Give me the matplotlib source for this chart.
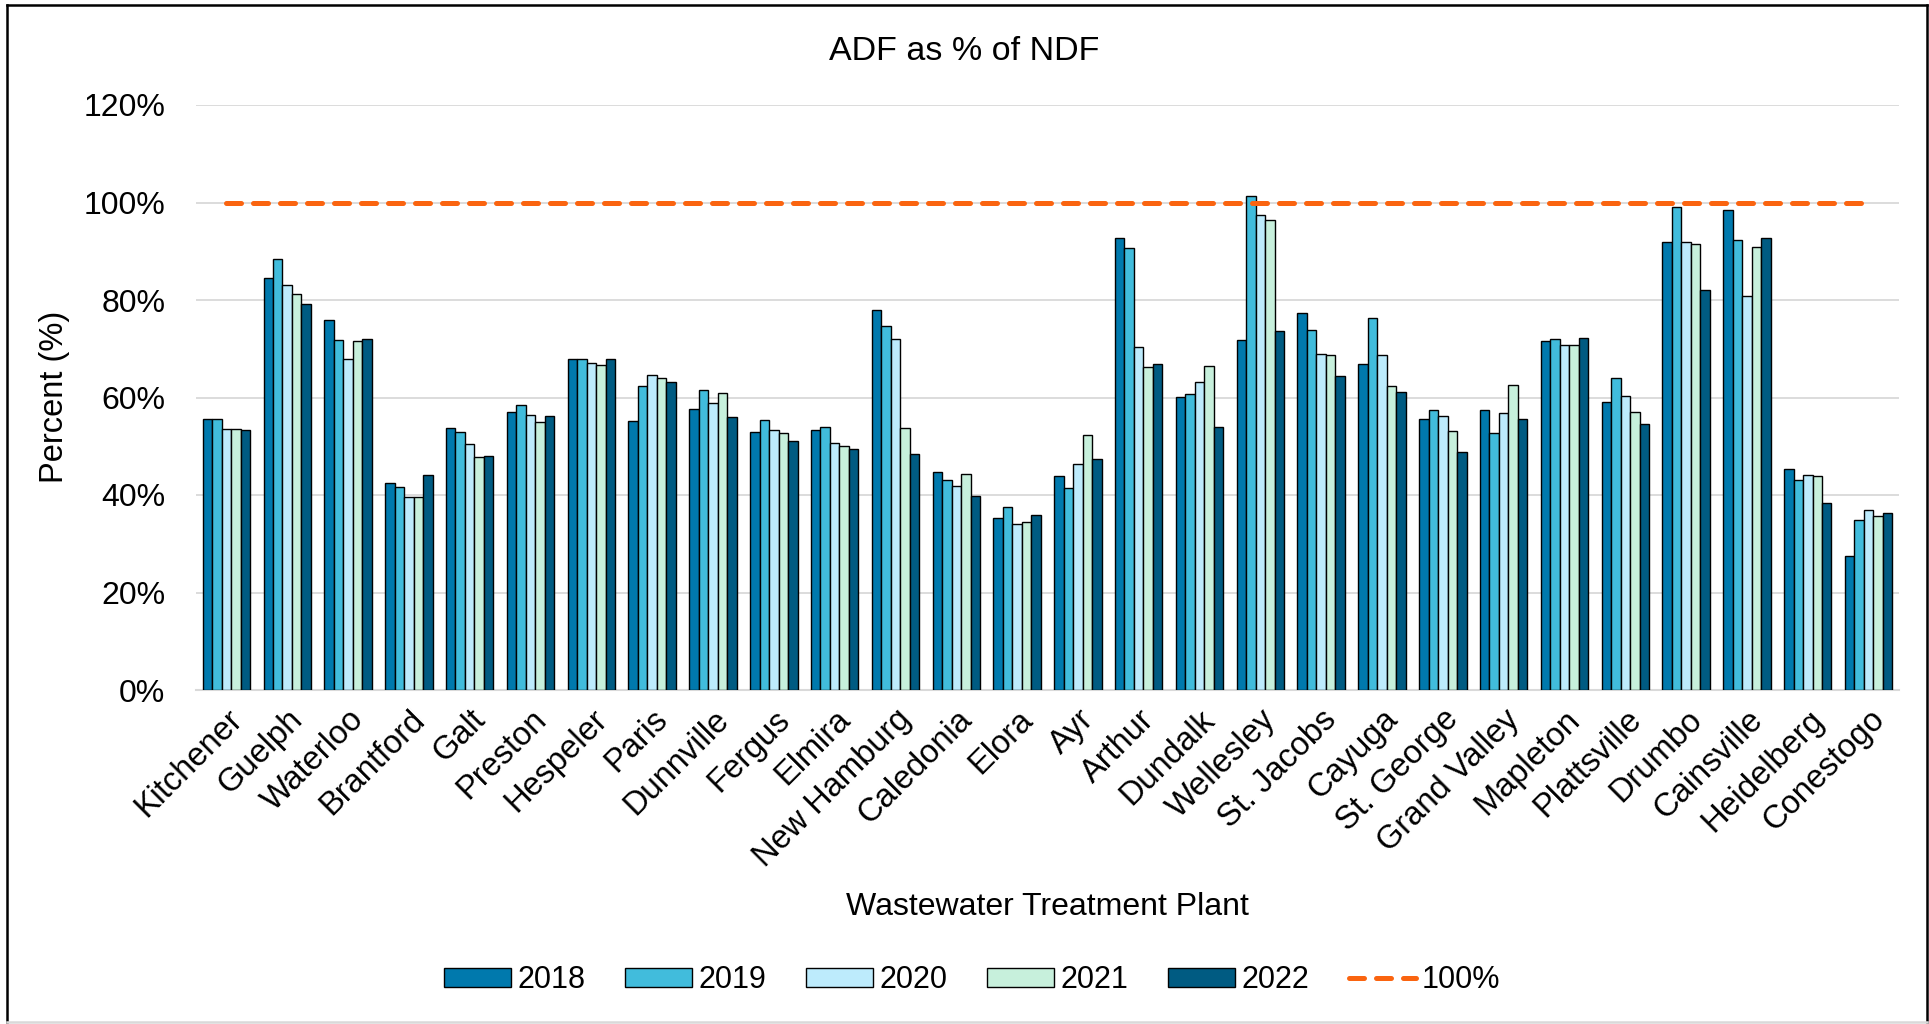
import numpy as np
import matplotlib
matplotlib.use('Agg')
import matplotlib.pyplot as plt
from matplotlib.lines import Line2D

plt.rcParams['font.family'] = ['Liberation Sans', 'DejaVu Sans']

plants = ['Kitchener', 'Guelph', 'Waterloo', 'Brantford', 'Galt', 'Preston',
          'Hespeler', 'Paris', 'Dunnville', 'Fergus', 'Elmira', 'New Hamburg',
          'Caledonia', 'Elora', 'Ayr', 'Arthur', 'Dundalk', 'Wellesley',
          'St. Jacobs', 'Cayuga', 'St. George', 'Grand Valley', 'Mapleton',
          'Plattsville', 'Drumbo', 'Cainsville', 'Heidelberg', 'Conestogo']

years = ['2018', '2019', '2020', '2021', '2022']

adf_2018 = [55.5, 84.5, 76.0, 42.5, 53.7, 57.1, 68.0, 55.2, 57.6, 52.9, 53.4, 77.9,
            44.7, 35.2, 44.0, 92.8, 60.2, 71.8, 77.4, 66.8, 55.5, 57.4, 71.5, 59.1,
            91.8, 98.4, 45.3, 27.4]
adf_2019 = [55.5, 88.5, 71.7, 41.6, 52.9, 58.4, 67.8, 62.3, 61.5, 55.4, 54.0, 74.7,
            43.1, 37.5, 41.5, 90.6, 60.8, 101.3, 73.8, 76.3, 57.4, 52.8, 72.1, 64.0,
            99.1, 92.3, 43.1, 34.9]
adf_2020 = [53.6, 83.0, 68.0, 39.6, 50.4, 56.5, 67.1, 64.7, 58.9, 53.4, 50.6, 71.9,
            41.9, 34.1, 46.3, 70.4, 63.2, 97.4, 68.9, 68.7, 56.3, 56.8, 70.8, 60.4,
            91.8, 80.8, 44.1, 36.9]
adf_2021 = [53.6, 81.3, 71.5, 39.6, 47.8, 55.0, 66.7, 63.9, 61.0, 52.7, 50.1, 53.7,
            44.4, 34.5, 52.4, 66.3, 66.5, 96.5, 68.7, 62.3, 53.2, 62.5, 70.8, 57.1,
            91.4, 90.9, 44.0, 35.6]
adf_2022 = [53.4, 79.1, 71.9, 44.1, 48.0, 56.2, 68.0, 63.1, 55.9, 51.0, 49.4, 48.5,
            39.7, 36.0, 47.3, 66.8, 54.0, 73.7, 64.4, 61.1, 48.9, 55.5, 72.2, 54.5,
            82.0, 92.8, 38.4, 36.3]
reference = [100] * len(plants)

series = [adf_2018, adf_2019, adf_2020, adf_2021, adf_2022]
colors = ['#0079AD', '#41BCDC', '#BDEBFC', '#C7F0DC', '#005B82']

fig = plt.figure(figsize=(19.29, 10.24), dpi=100)
ax = fig.add_axes([196 / 1929, 1 - 690 / 1024, 1703 / 1929, 585 / 1024])

x = np.arange(len(plants))
w = 0.156
handles = []
for i, (vals, c, yr) in enumerate(zip(series, colors, years)):
    b = ax.bar(x + (i - 2) * w, vals, width=w, color=c, edgecolor='black',
               linewidth=1.0, label=yr, zorder=3)
    handles.append(b)

ln, = ax.plot(x, reference, color='#FA6410', linewidth=3.6,
              linestyle=(0, (3.0, 2.4)), dash_capstyle='round', label='100%', zorder=4)
handles.append(ln)

ax.set_xlim(-0.5, len(plants) - 0.5)
ax.set_ylim(0, 120)
ax.set_yticks(np.arange(0, 121, 20))
ax.set_yticklabels([f'{v}%' for v in range(0, 121, 20)])
ax.set_xticks(x)
ax.set_xticklabels(plants, rotation=45, ha='right', rotation_mode='anchor')
ax.tick_params(axis='y', length=0, pad=22, labelsize=23)
ax.tick_params(axis='x', length=0, pad=10, labelsize=23.5)
ax.grid(axis='y', color='#D9D9D9', linewidth=1.3, zorder=0)
for s in ['top', 'right', 'left']:
    ax.spines[s].set_visible(False)
ax.spines['bottom'].set_color('#D9D9D9')
ax.spines['bottom'].set_linewidth(1.5)

fig.text(0.5, 1 - 52 / 1024, 'ADF as % of NDF', ha='center', va='center', fontsize=24.5)
fig.text(55 / 1929, 1 - 397 / 1024, 'Percent (%)', rotation=90, ha='center',
         va='center', fontsize=23.5)
fig.text(1047 / 1929, 1 - 907 / 1024, 'Wastewater Treatment Plant', ha='center',
         va='center', fontsize=23)

fig.legend(handles=handles, labels=years + ['100%'], loc='center',
           bbox_to_anchor=(0.504, 1 - 980 / 1024), ncol=6,
           frameon=False, fontsize=22, handlelength=2.2, handleheight=0.6,
           handletextpad=0.2, columnspacing=1.3)

# chart border
fig.add_artist(Line2D([7 / 1929, 7 / 1929], [0.002, 1 - 5 / 1024], color='black', lw=1.8))
fig.add_artist(Line2D([7 / 1929, 1927 / 1929], [1 - 5 / 1024, 1 - 5 / 1024], color='black', lw=1.8))
fig.add_artist(Line2D([1927 / 1929, 1927 / 1929], [0.002, 1 - 5 / 1024], color='black', lw=1.8))
fig.add_artist(Line2D([7 / 1929, 1927 / 1929], [0.002, 0.002], color='#D9D9D9', lw=1.8))

fig.savefig('out.png', dpi=100)
